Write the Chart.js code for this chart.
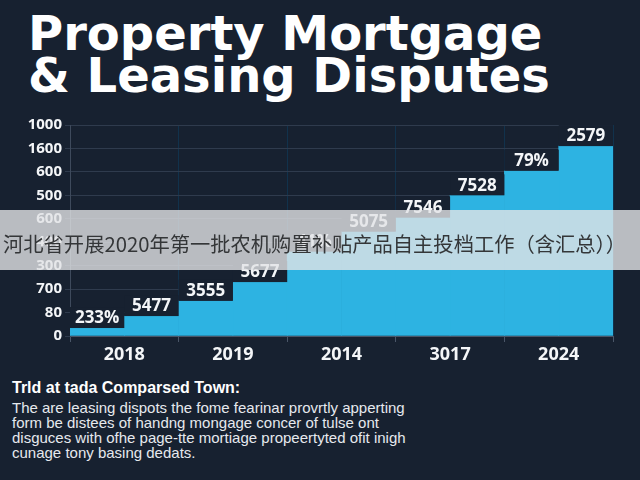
<!DOCTYPE html>
<html>
<head>
<meta charset="utf-8">
<script src="https://cdn.jsdelivr.net/npm/chart.js@4"></script>
<style>
  html, body { margin: 0; padding: 0; }
  body { width: 640px; height: 480px; background: #172130; position: relative; overflow: hidden; font-family: "Open Sans", sans-serif; }
  #title { position: absolute; left: 28px; top: 12px; color: #ffffff; font-family: "DejaVu Sans", sans-serif; font-weight: 700; font-size: 48px; line-height: 42px; white-space: nowrap; }
  #chartBox { position: absolute; left: 0; top: 110px; width: 640px; height: 262px; }
  #note { position: absolute; left: 12px; top: 379px; color: #e6e9ee; font-family: "Liberation Sans", Arial, sans-serif; }
  #note h3 { margin: 0 0 3px 0; font-size: 16px; font-weight: 700; color: #ffffff; }
  #note p { margin: 0; font-size: 15px; line-height: 15px; }
  #banner { position: absolute; left: 0; top: 210px; width: 640px; height: 60px; background: rgba(226, 228, 230, 0.8); color: #343638; font-family: "Noto Sans CJK SC", sans-serif; font-size: 20.3px; line-height: 67px; padding-left: 3px; white-space: nowrap; overflow: hidden; }
</style>
</head>
<body>
<div id="title">Property Mortgage<br>&amp; Leasing Disputes</div>
<div id="chartBox"><canvas id="chart" width="640" height="262"></canvas></div>
<div id="note">
  <h3>Trld at tada Comparsed Town:</h3>
  <p>The are leasing dispots the fome fearinar provrtly apperting<br>form be distees of handng mongage concer of tulse ont<br>disguces with ofhe page-tte mortiage propeertyted ofit inigh<br>cunage tony basing dedats.</p>
</div>
<div id="banner">河北省开展2020年第一批农机购置补贴产品自主投档工作（含汇总））</div>
<script>
// categories on the x axis
var years = ['2018', '2019', '2014', '3017', '2024'];
// tick labels as printed on the y axis (bottom to top)
var yTicks = ['0', '80', '700', '300', '400', '600', '500', '600', '1600', '1000'];
// each year is drawn as two steps: left half and right half
var leftSteps = [0.34, 1.5, 3.6, 5.05, 7.05];
var rightSteps = [0.85, 2.3, 4.45, 6.0, 8.1];
var leftLabels = ['233%', '3555', '41%', '7546', '79%'];
var rightLabels = ['5477', '5677', '5075', '7528', '2579'];

var bg = '#172130';
var barColor = '#2db3e2';

// draws the value text above each bar on a dark box
var stepLabels = {
  id: 'stepLabels',
  afterDatasetsDraw: function (chart) {
    var ctx = chart.ctx;
    ctx.save();
    chart.data.datasets.forEach(function (ds, i) {
      var meta = chart.getDatasetMeta(i);
      meta.data.forEach(function (bar, j) {
        var w = bar.width;
        ctx.fillStyle = bg;
        ctx.fillRect(bar.x - w / 2, bar.y - 21, w, 21);
        ctx.fillStyle = '#f4f6f8';
        ctx.font = 'bold 17px "Open Sans", sans-serif';
        ctx.textAlign = 'center';
        ctx.textBaseline = 'bottom';
        ctx.fillText(ds.valueLabels[j], bar.x, bar.y - 1);
      });
    });
    ctx.restore();
  }
};

var ctx = document.getElementById('chart').getContext('2d');
new Chart(ctx, {
  type: 'bar',
  data: {
    labels: years,
    datasets: [
      { label: 'first', data: leftSteps, valueLabels: leftLabels, backgroundColor: barColor, categoryPercentage: 1, barPercentage: 1 },
      { label: 'second', data: rightSteps, valueLabels: rightLabels, backgroundColor: barColor, categoryPercentage: 1, barPercentage: 1 }
    ]
  },
  options: {
    responsive: false,
    animation: false,
    layout: { padding: { top: 15, right: 27, left: 0, bottom: 0 } },
    plugins: { legend: { display: false }, tooltip: { enabled: false } },
    scales: {
      x: {
        z: 1,
        grid: { offset: true, color: 'rgba(10, 70, 110, 0.45)', tickLength: 6, tickColor: '#4a5668' },
        border: { color: '#4a5668' },
        ticks: { color: '#f4f6f8', font: { family: '"Open Sans", sans-serif', size: 18, weight: 'bold' }, padding: 2 },
        afterFit: function (s) { s.height = 36; }
      },
      y: {
        min: 0,
        max: 9,
        ticks: {
          stepSize: 1,
          padding: 3,
          color: '#f4f6f8',
          font: { family: '"Open Sans", sans-serif', size: 15, weight: 'bold' },
          callback: function (v) { return yTicks[v]; }
        },
        grid: { color: '#2f3b4d', tickLength: 5 },
        border: { color: '#3e4a5c' },
        afterFit: function (s) { s.width = 70; }
      }
    }
  },
  plugins: [stepLabels]
});
</script>
</body>
</html>
